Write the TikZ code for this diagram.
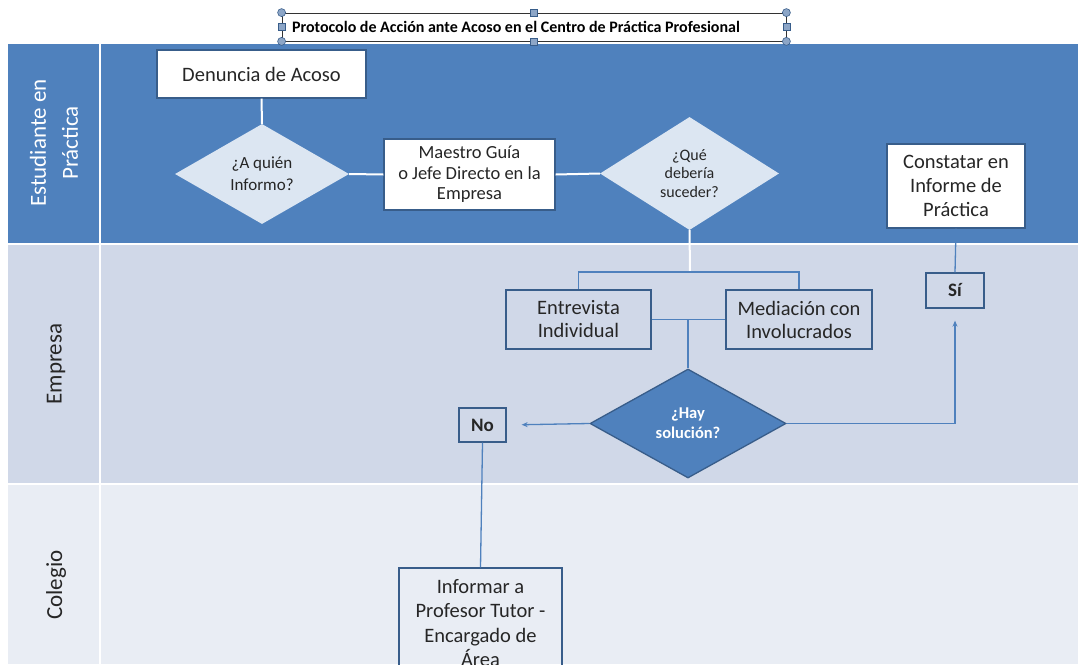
\documentclass[tikz,border=0pt]{standalone}
\usepackage{fontspec}
\setmainfont{Carlito}
\definecolor{lanedark}{RGB}{79, 129, 189}
\definecolor{lanemid}{RGB}{208, 216, 232}
\definecolor{lanelight}{RGB}{233, 237, 244}
\definecolor{boxline}{RGB}{56, 93, 138}
\definecolor{diafill}{RGB}{220, 230, 242}
\definecolor{handle}{RGB}{141, 166, 199}
\definecolor{inktext}{RGB}{38, 38, 38}
\usetikzlibrary{shapes.geometric, arrows.meta, positioning}
\tikzset{
  stepbox/.style={draw=boxline, line width=1.3pt, align=center, inner sep=0pt, text=inktext},
  question/.style={diamond, align=center, inner sep=0pt, text=inktext},
  lanelabel/.style={rotate=90, align=center, font=\fontsize{23}{32}\selectfont},
  whiteline/.style={draw=white, line width=2pt},
  blueline/.style={draw=lanedark, line width=1.3pt},
  arrowline/.style={blueline, -{Stealth[length=6pt, width=5pt]}}
}

\begin{document}
\begin{tikzpicture}[x=1pt, y=-1pt]
  \clip (0,0) rectangle (1078,664);
  \fill[white] (0,0) rectangle (1078,664);

  % swim lanes
  \fill[lanedark] (8,44) rectangle (1078,243);
  \fill[lanemid] (8,245) rectangle (1078,483);
  \fill[lanelight] (8,485) rectangle (1078,664);
  \draw[white, line width=1.5pt] (100,44) -- (100,664);

  \node[lanelabel, text=white] (lanestud) at (54,143) {Estudiante en\\Práctica};
  \node[lanelabel, text=inktext] (laneemp) at (56,364) {Empresa};
  \node[lanelabel, text=inktext] (lanecol) at (56,585) {Colegio};

  % title with its handles
  \node[draw=black!80, line width=0.8pt, text width=484pt, align=flush left, inner xsep=10pt, inner ysep=0pt, minimum height=28pt,
        font=\fontsize{16}{18}\selectfont\bfseries, text=black] (titulo) at (534,27)
        {Protocolo de Acción ante Acoso en el Centro de Práctica Profesional};
  \foreach \c in {north west, north east, south west, south east}
    \filldraw[fill=handle, draw=boxline, line width=0.6pt] (titulo.\c) circle (4pt);
  \foreach \c in {north, south, east, west}
    \filldraw[fill=handle, draw=boxline, line width=0.6pt] ([shift={(-3.5pt,-3.5pt)}]titulo.\c) rectangle ++(7pt,7pt);

  % student lane
  \node[stepbox, fill=white, minimum width=209pt, minimum height=48pt, font=\fontsize{20.5}{24}\selectfont] (denuncia) at (261.5,74) {Denuncia de Acoso};
  \node[question, fill=diafill, minimum width=174pt, minimum height=100pt, font=\fontsize{17}{22}\selectfont] (quien) at (262,174) {¿A quién\\Informo?};
  \node[stepbox, fill=white, minimum width=171pt, minimum height=71pt, font=\fontsize{18.5}{20.5}\selectfont] (maestro) at (469.5,174.5) {Maestro Guía\\o Jefe Directo en la\\Empresa};
  \node[question, fill=diafill, minimum width=179pt, minimum height=113pt, font=\fontsize{16}{18.5}\selectfont] (suceder) at (689.5,173.5) {¿Qué\\debería\\suceder?};
  \node[stepbox, fill=white, minimum width=138pt, minimum height=84pt, font=\fontsize{20.5}{24}\selectfont] (constatar) at (956,186) {Constatar en\\Informe de\\Práctica};

  % company lane
  \node[stepbox, minimum width=145pt, minimum height=59pt, font=\fontsize{20.5}{23}\selectfont] (entrevista) at (578.5,319.5) {Entrevista\\Individual};
  \node[stepbox, minimum width=146pt, minimum height=59pt, font=\fontsize{20.5}{23}\selectfont] (mediacion) at (799,319.5) {Mediación con\\Involucrados};
  \node[question, fill=lanedark, draw=boxline, line width=1.3pt, text=white, minimum width=196pt, minimum height=109pt,
        font=\fontsize{16.5}{20}\selectfont\bfseries] (solucion) at (688,423.5) {¿Hay\\solución?};
  \node[stepbox, minimum width=47pt, minimum height=34pt, font=\fontsize{19}{22}\selectfont\bfseries] (no) at (482.5,425) {No};
  \node[stepbox, minimum width=58pt, minimum height=35pt, font=\fontsize{19}{22}\selectfont\bfseries] (si) at (955,290.5) {Sí};

  % school lane
  \node[stepbox, minimum width=163pt, minimum height=110pt, font=\fontsize{20.5}{24.5}\selectfont] (informar) at (480.5,623) {Informar a\\Profesor Tutor -\\Encargado de\\Área};

  % connectors
  \coordinate (reparto) at (690,272);
  \draw[whiteline] (denuncia.south) -- (quien.north);
  \draw[whiteline] (quien.east) -- (maestro.west);
  \draw[whiteline] (maestro.east) -- (suceder.west);
  \draw[whiteline] (suceder.south) -- (reparto);
  \draw[blueline] (entrevista.north) |- (reparto) -| (mediacion.north);
  \draw[blueline] (entrevista.east) -- (mediacion.west);
  \draw[blueline] (solucion.north |- entrevista.east) -- (solucion.north);
  \draw[arrowline, shorten >=15pt] (solucion.west) -- (no.east);
  \draw[arrowline, shorten >=12pt] (solucion.east) -| (si.south);
  \draw[blueline] (constatar.south) -- (si.north);
  \draw[blueline] (no.south) -- (informar.north);
\end{tikzpicture}
\end{document}
